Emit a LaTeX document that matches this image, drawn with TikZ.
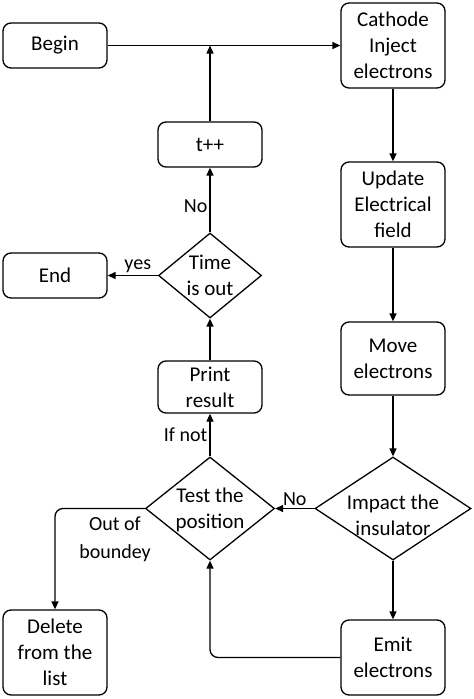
\documentclass[tikz,border=0pt]{standalone}
\usepackage{fontspec}
\setmainfont{Carlito}
\usetikzlibrary{shapes.geometric,arrows.meta}
\begin{document}
\begin{tikzpicture}[x=1pt,y=-1pt,
  box/.style={draw, line width=1.3pt, rounded corners=8pt, minimum width=104pt, align=center, font=\fontsize{21}{26}\selectfont, inner sep=0pt},
  dia/.style={draw, diamond, line width=1.3pt, inner sep=0pt},
  dtext/.style={align=center, font=\fontsize{21}{26}\selectfont},
  arr/.style={-{Triangle[length=8pt,width=7pt]}, line width=1.3pt},
  lab/.style={font=\fontsize{20}{24}\selectfont, inner sep=2pt}]
\useasboundingbox (0,0) rectangle (474,699);
\node[box, minimum height=45pt] (begin) at (55,45.5) {Begin};
\node[box, minimum height=85pt] (cath) at (393,45.5) {Cathode\\Inject\\electrons};
\node[box, minimum height=45pt] (tpp) at (210,144.5) {t++};
\node[box, minimum height=85pt] (upd) at (393,204.5) {Update\\Electrical\\field};
\node[box, minimum height=45pt] (end) at (55,275.5) {End};
\node[box, minimum height=73pt] (move) at (393,358.5) {Move\\electrons};
\node[box, minimum height=52pt] (print) at (210,387) {Print\\result};
\node[box, minimum height=85pt] (del) at (55,652.5) {Delete\\from the\\list};
\node[box, minimum height=75pt] (emit) at (393,657.5) {Emit\\electrons};
\node[dia, minimum width=103pt, minimum height=85pt, label={[dtext]center:Time\\is out}] (time) at (210,275.5) {};
\node[dia, minimum width=129pt, minimum height=103pt, label={[dtext, yshift=-1pt]center:Test the\\position}] (test) at (210,508.5) {};
\node[dia, minimum width=156pt, minimum height=103pt, label={[dtext, yshift=-7pt]center:Impact the\\insulator}] (imp) at (393,508.5) {};
\draw[arr] (begin) -- (cath);
\draw[arr] (tpp.north) -- (tpp.north |- begin.east);
\draw[arr] (cath) -- (upd);
\draw[arr] (upd) -- (move);
\draw[arr] (move) -- (imp.north);
\draw[arr] (imp.west) -- node[above, lab] {No} (test.east);
\draw[arr] (imp.south) -- (emit.north);
\draw[arr, rounded corners=8pt] (emit.west) -| (test.south);
\draw[arr] (test.north) -- node[left, lab] {If not} (print.south);
\draw[arr] (print.north) -- (time.south);
\draw[arr] (time.north) -- node[left, lab, pos=0.4] {No} (tpp.south);
\draw[arr] (time.west) -- node[above, lab, pos=0.4] {yes} (end.east);
\draw[arr, rounded corners=8pt] (test.west) -| (del.north);
\node[lab, align=center, font=\fontsize{20}{28}\selectfont] (oob) at (115,539) {Out of\\boundey};
\end{tikzpicture}
\end{document}
